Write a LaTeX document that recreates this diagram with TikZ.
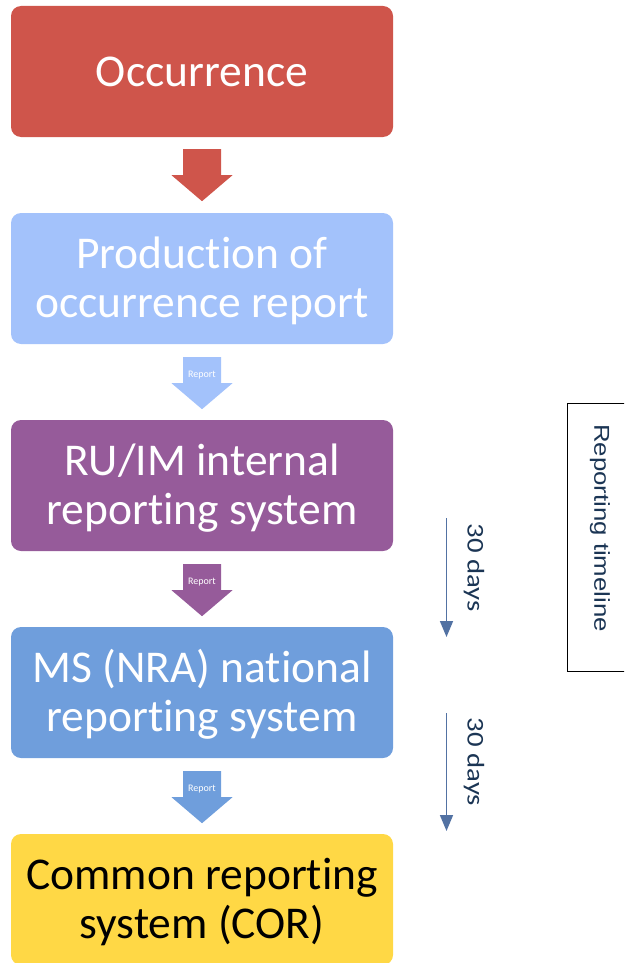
\documentclass[tikz,border=0pt]{standalone}
\usepackage{fontspec}
\setmainfont{Carlito}[Ligatures=NoCommon]
\newfontfamily\arialfont{Liberation Sans}[Ligatures=NoCommon]
\usetikzlibrary{calc,arrows.meta}
\definecolor{cred}{HTML}{CF554B}
\definecolor{clblue}{HTML}{A3C2FB}
\definecolor{cpurple}{HTML}{965B9A}
\definecolor{cblue}{HTML}{6F9EDC}
\definecolor{cyellow}{HTML}{FFD845}
\definecolor{cslate}{HTML}{5272A3}
\definecolor{cnavy}{HTML}{1B3554}
\newcommand\toprule{\rule{0pt}{37pt}}
\tikzset{
  box/.style={rounded corners=10pt, minimum width=382pt, minimum height=131pt,
    inner sep=0pt, align=center, text=white, font=\fontsize{45.5}{49}\selectfont},
  blockarr/.pic={\fill[pic actions] (-19,0) -- (19,0) -- (19,26) -- (30.5,26) -- (0,52) -- (-30.5,26) -- (-19,26) -- cycle;},
  replabel/.style={text=white, font=\fontsize{10}{12}\selectfont, inner sep=0pt},
  tline/.style={draw=cslate, line width=1.6pt, -{Triangle[width=13pt,length=16pt]}},
  tlabel/.style={text=cnavy, rotate=-90, inner sep=0pt, font=\fontsize{24}{28}\selectfont},
}
\begin{document}
\begin{tikzpicture}[x=1pt,y=-1pt]
\useasboundingbox (0,0) rectangle (624,963);
\clip (0,0) rectangle (624,963);
% boxes
\node[box, fill=cred] (occ) at (202,71.5) {Occurrence};
\node[box, fill=clblue] (prod) at (202,278.5) {\toprule Production of\\occurrence report};
\node[box, fill=cpurple] (rui) at (202,485.5) {\toprule RU/IM internal\\reporting system};
\node[box, fill=cblue] (ms) at (202,692.5) {\toprule MS (NRA) national\\reporting system};
\node[box, fill=cyellow, text=black] (cor) at (202,899.5) {\toprule Common reporting\\system (COR)};
% block arrows
\coordinate (a1) at ($(occ.south)+(0,12)$);
\coordinate (a2) at ($(prod.south)+(0,13)$);
\coordinate (a3) at ($(rui.south)+(0,13)$);
\coordinate (a4) at ($(ms.south)+(0,13)$);
\pic[fill=cred] at (a1) {blockarr};
\pic[fill=clblue] at (a2) {blockarr};
\pic[fill=cpurple] at (a3) {blockarr};
\pic[fill=cblue] at (a4) {blockarr};
\node[replabel] (r2) at ($(a2)+(0,18)$) {Report};
\node[replabel] (r3) at ($(a3)+(0,18)$) {Report};
\node[replabel] (r4) at ($(a4)+(0,18)$) {Report};
% timeline arrows
\coordinate (t1s) at (446.5,518);
\coordinate (t1e) at (446.5,637);
\coordinate (t2s) at (446.5,713);
\coordinate (t2e) at (446.5,831);
\draw[tline] (t1s) -- (t1e);
\draw[tline] (t2s) -- (t2e);
\node[tlabel] (d1) at (474,567.5) {\scalebox{1.2}[1]{30 days}};
\node[tlabel] (d2) at (474,762) {\scalebox{1.2}[1]{30 days}};
% reporting timeline box
\node[draw=black, line width=0.8pt, minimum width=63pt, minimum height=268pt, inner sep=0pt, anchor=north west] (rtbox) at (567,402.5) {};
\node[text=cnavy, rotate=-90, inner sep=0pt, font=\arialfont\fontsize{21.5}{26}\selectfont] (rt) at (600,528) {\scalebox{1.2}[1]{Reporting timeline}};
\end{tikzpicture}
\end{document}
